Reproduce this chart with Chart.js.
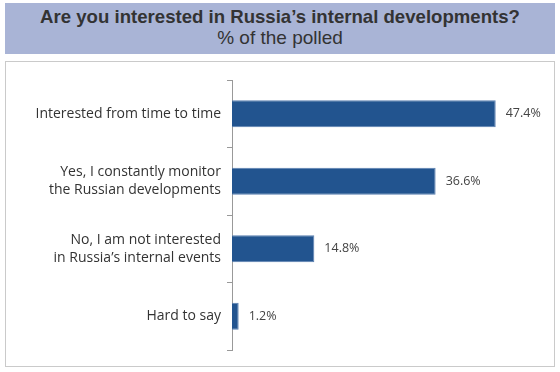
<!DOCTYPE html>
<html><head><meta charset="utf-8">
<script src="https://cdn.jsdelivr.net/npm/chart.js@4/dist/chart.umd.min.js"></script>
<style>
html,body{margin:0;padding:0;background:#fff;width:560px;height:372px;overflow:hidden;font-family:"Liberation Sans",Arial,sans-serif;}
#band{position:absolute;left:5px;top:3px;width:550px;height:51px;background:#a9b4d6;text-align:center;color:#333;}
#t1{position:absolute;left:0;right:0;top:3px;font-size:18.6px;font-weight:bold;line-height:22px;}
#t2{position:absolute;left:0;right:0;top:24px;font-size:19px;line-height:22px;}
#box{position:absolute;left:5px;top:61px;width:548px;height:304px;border:1px solid #cacaca;}
#wrap{position:absolute;left:0;top:0;width:548px;height:304px;}
</style></head>
<body>
<div id="band"><div id="t1">Are you interested in Russia’s internal developments?</div><div id="t2">% of the polled</div></div>
<div id="box"><div id="wrap"><canvas id="c"></canvas></div></div>
<script>
const categories = [
  "Interested from time to time",
  ["Yes, I constantly monitor", "the Russian developments"],
  ["No, I am not interested", "in Russia’s internal events"],
  "Hard to say"
];
const values = [47.4, 36.6, 14.8, 1.2];
const valueLabels = ["47.4%", "36.6%", "14.8%", "1.2%"];

const labelPlugin = {
  id: 'valueLabels',
  afterDatasetsDraw(chart) {
    const ctx = chart.ctx;
    const meta = chart.getDatasetMeta(0);
    ctx.save();
    ctx.font = '12.5px "Open Sans", sans-serif';
    ctx.fillStyle = '#444';
    ctx.textAlign = 'left';
    ctx.textBaseline = 'middle';
    meta.data.forEach((bar, i) => {
      ctx.fillText(valueLabels[i], bar.x + 10, bar.y);
    });
    ctx.restore();
  }
};

new Chart(document.getElementById('c'), {
  type: 'bar',
  data: {
    labels: categories,
    datasets: [{
      data: values,
      backgroundColor: '#22548f',
      borderColor: '#5a7fb0',
      borderWidth: 1,
      barPercentage: 0.4,
      categoryPercentage: 1
    }]
  },
  options: {
    indexAxis: 'y',
    responsive: true,
    maintainAspectRatio: false,
    animation: false,
    layout: { padding: { top: 18, bottom: 16, right: 16, left: 0 } },
    plugins: { legend: { display: false }, tooltip: { enabled: false } },
    scales: {
      x: { display: false, min: 0, max: 55 },
      y: {
        afterFit(scale) { scale.width = 226; },
        border: { display: true, color: '#999', width: 1 },
        grid: { display: true, drawOnChartArea: false, drawTicks: true, tickLength: 5, color: '#999', offset: true },
        ticks: { color: '#333', font: { family: '"Open Sans", sans-serif', size: 14, lineHeight: 1.28 }, padding: 6 }
      }
    }
  },
  plugins: [labelPlugin]
});
</script>
</body></html>
